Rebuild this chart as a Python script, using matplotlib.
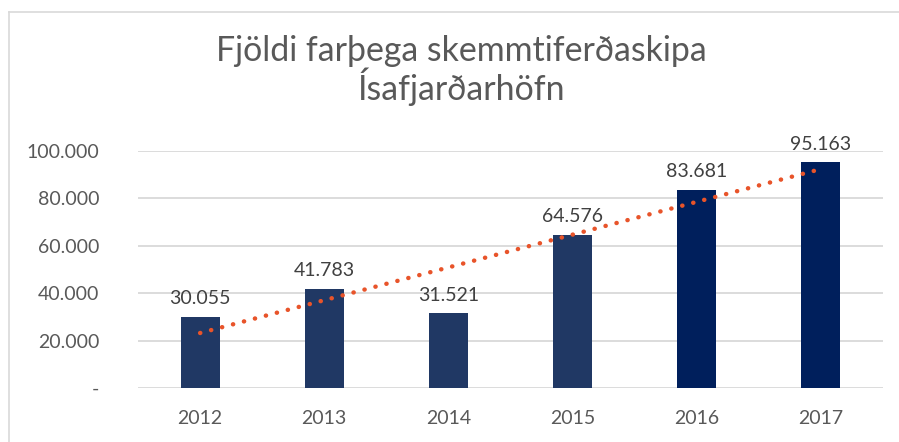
import matplotlib
matplotlib.use("Agg")
import matplotlib.pyplot as plt
import numpy as np
from matplotlib.lines import Line2D

years = ["2012", "2013", "2014", "2015", "2016", "2017"]
passengers = [30055, 41783, 31521, 64576, 83681, 95163]
bar_colors = ["#203864", "#203864", "#203864", "#203864", "#001F5C", "#001F5C"]
yticks = [0, 20000, 40000, 60000, 80000, 100000]
ytick_labels = ["-", "20.000", "40.000", "60.000", "80.000", "100.000"]
title = "Fjöldi farþega skemmtiferðaskipa\nÍsafjarðarhöfn"

plt.rcParams['font.family'] = ['Lato', 'DejaVu Sans']
text_color = "#595959"

fig = plt.figure(figsize=(8.99, 4.42), dpi=100)
W, H = 899, 442
ax = fig.add_axes([138 / W, 1 - 388 / H, (883 - 138) / W, (388 - 151) / H])

x = np.arange(len(years))
ax.bar(x, passengers, width=0.315, color=bar_colors, zorder=2)

for xi, v in zip(x, passengers):
    ax.text(xi, v + 4000, f"{v:,}".replace(",", "."), ha="center", va="bottom",
            fontsize=14, color="#404040")

# linear trendline
coef = np.polyfit(x, passengers, 1)
trend = np.polyval(coef, x)
ax.plot(x, trend, color="#E8542A", linewidth=3.2, linestyle=(0, (0.05, 2.5)),
        dash_capstyle="round", solid_capstyle="round", zorder=3)

ax.set_xlim(-0.5, len(years) - 0.5)
ax.set_ylim(0, 100000)
ax.set_yticks(yticks)
ax.set_yticklabels(ytick_labels)
ax.set_xticks(x)
ax.set_xticklabels(years)
ax.tick_params(axis="both", length=0, labelsize=14, colors=text_color)
ax.tick_params(axis="y", pad=28)
ax.tick_params(axis="x", pad=16)
for lab in ax.get_yticklabels():
    lab.set_horizontalalignment("right")
ax.grid(axis="y", color="#D9D9D9", linewidth=1.3, zorder=0)
ax.set_axisbelow(True)
for s in ax.spines.values():
    s.set_visible(False)

fig.text(461 / W, 1 - 35 / H, title, ha="center", va="top", fontsize=24.4,
         color=text_color, linespacing=1.0)

# chart frame (top and left edges visible)
fig.add_artist(Line2D([8.5 / W, 8.5 / W], [0, 1 - 11.5 / H], color="#D9D9D9",
                      linewidth=1.2, transform=fig.transFigure))
fig.add_artist(Line2D([8.5 / W, 1], [1 - 11.5 / H, 1 - 11.5 / H], color="#D9D9D9",
                      linewidth=1.2, transform=fig.transFigure))

fig.savefig("out.png", dpi=100)
